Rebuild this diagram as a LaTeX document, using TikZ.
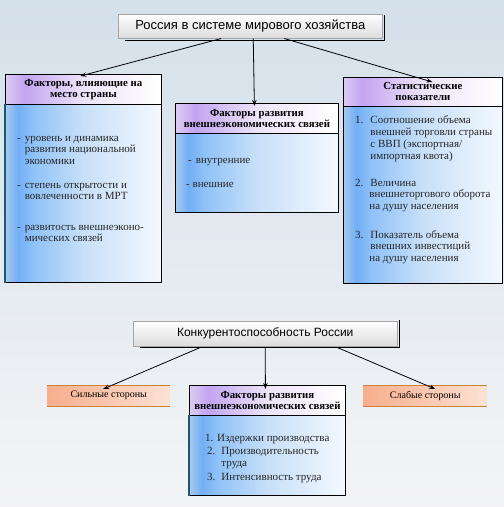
\documentclass[tikz,border=0pt]{standalone}
\usepackage{fontspec}
\setmainfont{Liberation Serif}
\newfontfamily\arialf{Liberation Sans}
\usetikzlibrary{arrows.meta}
\definecolor{bgA}{HTML}{D4E0EA}
\definecolor{bgB}{HTML}{F4F4F6}
\definecolor{bA}{HTML}{A6CAEC}
\definecolor{bB}{HTML}{72AEF6}
\definecolor{bC}{HTML}{90C2F8}
\definecolor{bD}{HTML}{C8E0F8}
\definecolor{bE}{HTML}{F4F8FF}
\definecolor{hA}{HTML}{DCCCF2}
\definecolor{hB}{HTML}{C2A4F0}
\definecolor{hC}{HTML}{EDE4FA}
\definecolor{hD}{HTML}{FFFFFF}
\definecolor{oA}{HTML}{F8AE8C}
\definecolor{oB}{HTML}{FCE2D4}
\definecolor{oLine}{HTML}{C8823C}
\definecolor{edgeT}{HTML}{1E5A6E}
\pgfdeclarehorizontalshading{bodysh}{100bp}{color(0bp)=(bA); color(25bp)=(bA); color(29bp)=(bB); color(34bp)=(bC); color(50bp)=(bD); color(75bp)=(bE); color(100bp)=(bE)}
\pgfdeclarehorizontalshading{headsh}{100bp}{color(0bp)=(hA); color(25bp)=(hA); color(31bp)=(hB); color(50bp)=(hC); color(75bp)=(hD); color(100bp)=(hD)}
\pgfdeclarehorizontalshading{orsh}{100bp}{color(0bp)=(oA); color(25bp)=(oA); color(75bp)=(oB); color(100bp)=(oB)}
\tikzset{
  bodybox/.style={draw=black, line width=0.8pt, shading=bodysh, anchor=north west, inner sep=0pt},
  headbox/.style={draw=black, line width=0.8pt, shading=headsh, anchor=north west, inner sep=0pt, align=center, font=\fontsize{10.8}{11}\selectfont\bfseries},
  titlebox/.style={draw=gray!70, line width=0.5pt, top color=white, bottom color=gray!28, anchor=north west, inner sep=0pt, font=\arialf\fontsize{12}{14}\selectfont},
  orbox/.style={shading=orsh, anchor=north west, inner sep=0pt, font=\fontsize{10}{11}\selectfont},
  txt/.style={anchor=base west, inner sep=0pt, align=left, font=\fontsize{11}{11.7}\selectfont, text=black!85},
  arr/.style={line width=0.8pt, -{Stealth[length=6pt,width=4.5pt]}},
  shad/.style={line width=1pt, black}
}
\begin{document}
\begin{tikzpicture}[x=1pt,y=-1pt]
\useasboundingbox (0,0) rectangle (504,507);
\shade[top color=bgA, bottom color=bgB] (0,0) rectangle (504,507);
% title 1
\node[titlebox, minimum width=264, minimum height=24, font=\arialf\fontsize{13}{15}\selectfont] (top) at (118,14) {Россия в системе мирового хозяйства};
\draw[shad] (125,40) -- (384,40) -- (384,15);
% left box
\node[bodybox, minimum width=156, minimum height=178] (lbody) at (5,104) {};
\node[headbox, minimum width=156, minimum height=30] (lhead) at (5,74) {Факторы, влияющие на\\место страны};
\draw[edgeT, line width=1.2pt] (lbody.north west) -- (lbody.south west);
\node[txt] (l1) at (17,164.4) {-\hspace{4pt}уровень и динамика\\\hphantom{-\hspace{4pt}}развития национальной\\\hphantom{-\hspace{4pt}}экономики};
\node[txt] (l2) at (17,199.7) {-\hspace{4pt}степень открытости и\\\hphantom{-\hspace{4pt}}вовлеченности в МРТ};
\node[txt] (l3) at (17,241.7) {-\hspace{4pt}развитость внешнеэконо-\\\hphantom{-\hspace{4pt}}мических связей};
% middle box
\node[bodybox, minimum width=163, minimum height=79] (mbody) at (175,133) {};
\node[headbox, minimum width=163, minimum height=30] (mhead) at (175,103) {Факторы развития\\внешнеэкономических связей};
\node[txt] (m1) at (188,163) {-\hspace{4pt}внутренние};
\node[txt] (m2) at (186,187) {- внешние};
% right box
\node[bodybox, minimum width=159, minimum height=177] (rbody) at (343,106) {};
\node[headbox, minimum width=159, minimum height=29] (rhead) at (343,77) {Статистические\\показатели};
\node[txt] (r1) at (355,159) {1.\hspace{7pt}Соотношение объема\\\hphantom{1.\hspace{7pt}}внешней торговли страны\\\hphantom{1.\hspace{7pt}}с ВВП (экспортная/\\\hphantom{1.\hspace{7pt}}импортная квота)};
\node[txt] (r2) at (355,209.4) {2.\hspace{7pt}Величина\\\hphantom{1.\hspace{6pt}}внешнеторгового оборота\\\hphantom{1.\hspace{6pt}}на душу населения};
\node[txt] (r3) at (355,261.4) {3.\hspace{7pt}Показатель объема\\\hphantom{1.\hspace{7pt}}внешних инвестиций\\\hphantom{1.\hspace{6pt}}на душу населения};
% title 2
\node[titlebox, minimum width=264, minimum height=25] (konk) at (133,321) {Конкурентоспособность России};
\draw[shad] (140,347) -- (399,347) -- (399,320);
% orange boxes
\node[orbox, minimum width=123, minimum height=21] (sil) at (47,385) {Сильные стороны};
\draw[oLine, line width=0.9pt] (sil.north west) -- (sil.north east) (sil.south west) -- (sil.south east);
\node[orbox, minimum width=124, minimum height=21] (slab) at (363,385) {Слабые стороны};
\draw[oLine, line width=0.9pt] (slab.north west) -- (slab.north east) (slab.south west) -- (slab.south east);
% bottom middle box
\node[bodybox, minimum width=156, minimum height=80] (bbody) at (189,415) {};
\node[headbox, minimum width=156, minimum height=30] (bhead) at (189,385) {Факторы развития\\внешнеэкономических связей};
\draw[edgeT, line width=1.2pt] (bbody.north west) -- (bbody.south west);
\node[txt] (b1) at (205,441) {1. Издержки производства};
\node[txt] (b2) at (207,466) {2.\hspace{6pt}Производительность\\\hphantom{2.\hspace{6pt}}труда};
\node[txt] (b3) at (207,480) {3.\hspace{6pt}Интенсивность труда};
% arrows
\draw[arr] ([xshift=-29pt]top.south) -- ([xshift=-3pt,yshift=-2pt]lhead.north);
\draw[arr] ([xshift=3pt]top.south) -- ([xshift=-2.5pt,yshift=-3pt]mhead.north);
\draw[arr] ([xshift=34pt]top.south) -- ([xshift=9.5pt,yshift=-5pt]rhead.north);
\draw[arr] ([xshift=-65pt,yshift=-1pt]konk.south) -- ([xshift=-5.5pt,yshift=-4pt]sil.north);
\draw[arr] ([yshift=-1pt]konk.south) -- ([xshift=-2pt,yshift=-4pt]bhead.north);
\draw[arr] ([xshift=72pt,yshift=-1pt]konk.south) -- ([xshift=10pt,yshift=-4pt]slab.north);
\end{tikzpicture}
\end{document}
